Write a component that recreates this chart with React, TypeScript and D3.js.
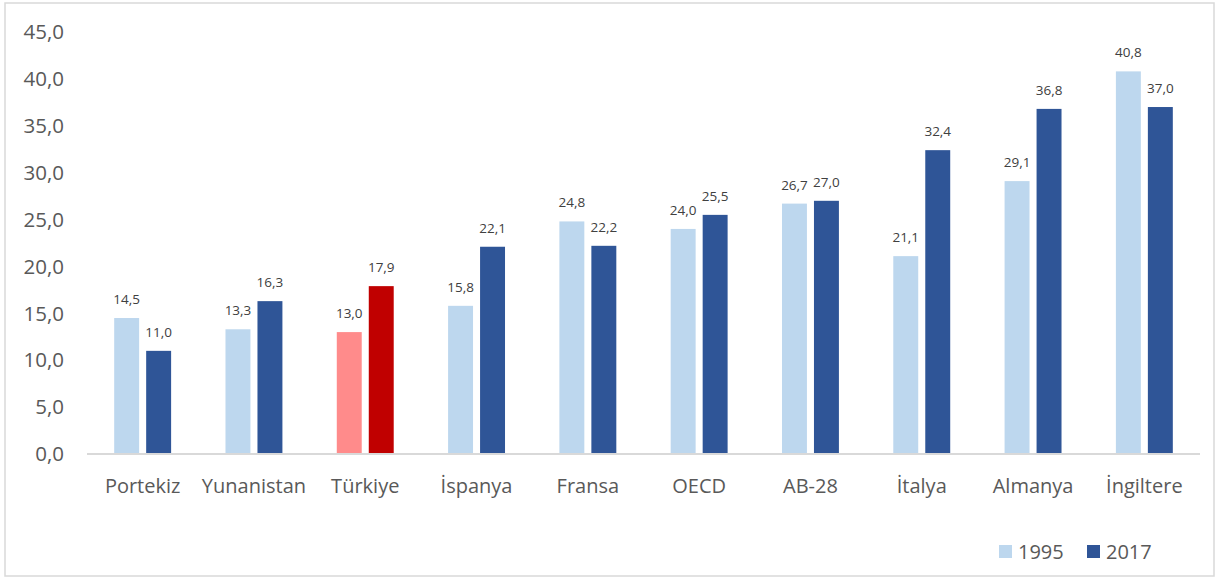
import React from "react";
import * as d3 from "d3";

const countries = ["Portekiz", "Yunanistan", "Türkiye", "İspanya", "Fransa", "OECD", "AB-28", "İtalya", "Almanya", "İngiltere"];
const years = ["1995", "2017"];
const values1995 = [14.5, 13.3, 13.0, 15.8, 24.8, 24.0, 26.7, 21.1, 29.1, 40.8];
const values2017 = [11.0, 16.3, 17.9, 22.1, 22.2, 25.5, 27.0, 32.4, 36.8, 37.0];
const yTicks = [0, 5, 10, 15, 20, 25, 30, 35, 40, 45];
const highlight = "Türkiye";

const W = 1219;
const H = 579;
const FONT = "'Open Sans', 'Noto Sans', sans-serif";

const colors: Record<string, string> = { "1995": "#bdd7ee", "2017": "#2f5597" };
const hiColors: Record<string, string> = { "1995": "#ff8b8b", "2017": "#c00000" };

const fmt = (v: number) => v.toFixed(1).replace(".", ",");

export default function App() {
  const x0 = d3.scaleBand<string>().domain(countries).range([87, 1200]);
  const x1 = d3
    .scaleBand<string>()
    .domain(years)
    .range([0, x0.bandwidth()])
    .paddingInner(0.22)
    .paddingOuter(0.85);
  const y = d3.scaleLinear().domain([0, 45]).range([454, 32]);

  const rows = countries.map((c, i) => ({
    country: c,
    vals: [
      { key: "1995", v: values1995[i] },
      { key: "2017", v: values2017[i] },
    ],
  }));

  return (
    <svg width={W} height={H} style={{ position: "absolute", left: 0, top: 0, background: "#fff" }}>
      <rect x={5} y={3} width={1209} height={573} fill="#fff" stroke="#d9d9d9" strokeWidth={1.5} />

      {yTicks.map((t) => (
        <text key={t} x={64} y={y(t)} dy="0.35em" textAnchor="end" fontFamily={FONT} fontSize={20.5} fill="#595959">
          {fmt(t)}
        </text>
      ))}

      {rows.map((r) => (
        <g key={r.country} transform={`translate(${x0(r.country)},0)`}>
          {r.vals.map((d) => (
            <g key={d.key}>
              <rect
                x={x1(d.key)}
                y={y(d.v)}
                width={x1.bandwidth()}
                height={y(0) - y(d.v)}
                fill={r.country === highlight ? hiColors[d.key] : colors[d.key]}
              />
              <text
                x={(x1(d.key) as number) + x1.bandwidth() / 2}
                y={y(d.v) - 14}
                textAnchor="middle"
                fontFamily={FONT}
                fontSize={13.5}
                fill="#404040"
              >
                {fmt(d.v)}
              </text>
            </g>
          ))}
          <text
            x={x0.bandwidth() / 2}
            y={493}
            textAnchor="middle"
            fontFamily={FONT}
            fontSize={20}
            fill="#595959"
          >
            {r.country}
          </text>
        </g>
      ))}

      <line x1={87} x2={1200} y1={y(0)} y2={y(0)} stroke="#d9d9d9" strokeWidth={2} />

      {years.map((k, i) => (
        <g key={k} transform={`translate(${999 + i * 88},0)`}>
          <rect x={0} y={545} width={13} height={13} fill={colors[k]} />
          <text x={19} y={558.5} fontFamily={FONT} fontSize={20} fill="#595959">
            {k}
          </text>
        </g>
      ))}
    </svg>
  );
}
